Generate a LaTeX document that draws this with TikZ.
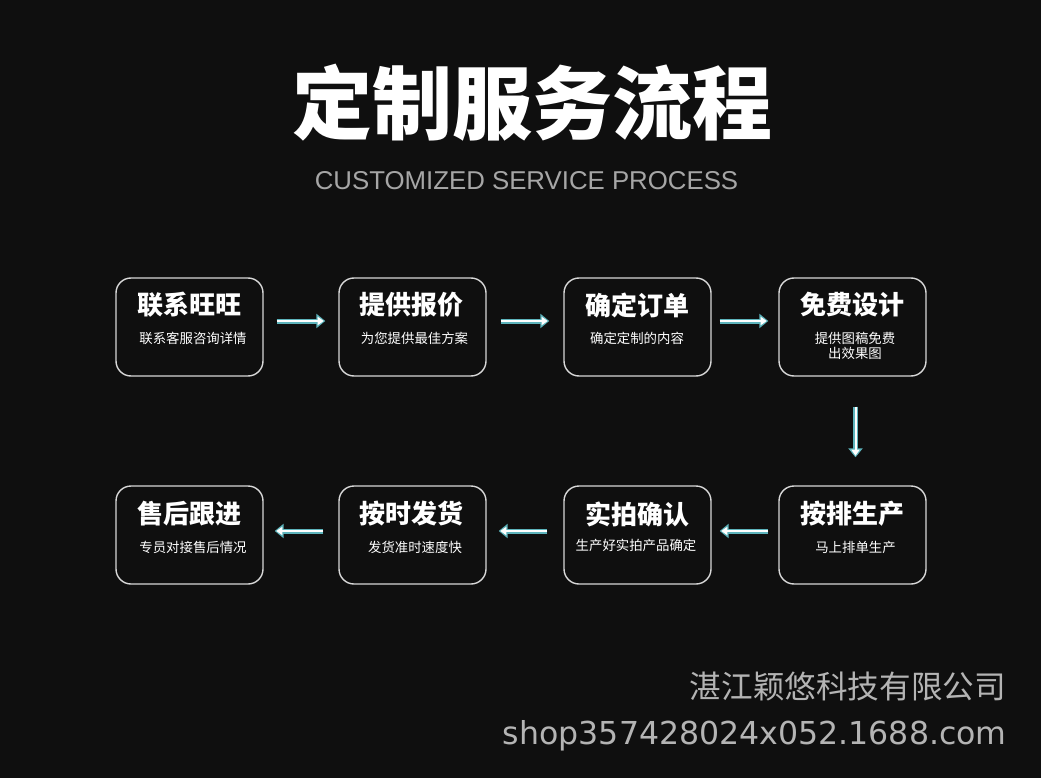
\documentclass[tikz,border=0pt]{standalone}
\usepackage{fontspec}
\setmainfont{Liberation Sans}
\newfontfamily\cjk{Noto Sans CJK SC}
\newfontfamily\dejavu{DejaVu Sans}
\usetikzlibrary{arrows.meta}
\definecolor{bg}{HTML}{0F0F0F}
\definecolor{boxline}{HTML}{D8D8D8}
\definecolor{arrowc}{HTML}{5DB4BC}
\definecolor{subgrey}{HTML}{A6A6A6}
\definecolor{footgrey}{HTML}{B4B4B4}
\tikzset{
  box/.style={draw=boxline, line width=1.4pt, rounded corners=15pt, minimum width=147pt, minimum height=98pt, inner sep=0pt},
  ttl/.style={text=white, inner sep=0pt, font=\cjk\bfseries\fontsize{26}{30}\selectfont},
  sub/.style={text=white, inner sep=0pt, align=center, font=\cjk\fontsize{13.4}{15}\selectfont},
  arr/.style={draw=arrowc, line width=5pt, -{Triangle[length=9pt,width=14pt]},
    postaction={draw=white, line width=2pt, -{Triangle[length=6pt,width=8pt]}, shorten >=1.6pt}}
}
\begin{document}
\begin{tikzpicture}[x=1pt,y=-1pt]
\fill[bg] (0,0) rectangle (1041,778);
\useasboundingbox (0,0) rectangle (1041,778);
% title
\node[text=white, inner sep=0pt, font=\cjk\bfseries\fontsize{80}{90}\selectfont] (title) at (532,103) {定制服务流程};
\node[text=subgrey, inner sep=0pt, font=\fontsize{25.8}{30}\selectfont] (subtitle) at (526.5,181) {CUSTOMIZED SERVICE PROCESS};
% row 1
\node[box] (b1) at (189.5,327) {};
\node[box] (b2) at (412.5,327) {};
\node[box] (b3) at (637.5,327) {};
\node[box] (b4) at (852.5,327) {};
% row 2
\node[box] (b5) at (189.5,535) {};
\node[box] (b6) at (412.5,535) {};
\node[box] (b7) at (637.5,535) {};
\node[box] (b8) at (852.5,535) {};
% titles
\node[ttl] (t1) at (189,305) {联系旺旺};
\node[ttl] (t2) at (411,305) {提供报价};
\node[ttl] (t3) at (637,305) {确定订单};
\node[ttl] (t4) at (852,305) {免费设计};
\node[ttl] (t5) at (189,514) {售后跟进};
\node[ttl] (t6) at (411,514) {按时发货};
\node[ttl] (t7) at (637,514) {实拍确认};
\node[ttl] (t8) at (852,514) {按排生产};
% subtitles
\node[sub] (s1) at (193,338) {联系客服咨询详情};
\node[sub] (s2) at (414.5,338) {为您提供最佳方案};
\node[sub] (s3) at (637,338) {确定定制的内容};
\node[sub] (s4) at (855,345.5) {提供图稿免费\\出效果图};
\node[sub] (s5) at (193,547) {专员对接售后情况};
\node[sub] (s6) at (415,547) {发货准时速度快};
\node[sub] (s7) at (636,545) {生产好实拍产品确定};
\node[sub] (s8) at (855.5,547) {马上排单生产};
% arrows
\draw[arr] ([xshift=13pt,yshift=6pt]b1.east) -- ([xshift=-13pt,yshift=6pt]b2.west);
\draw[arr] ([xshift=14pt,yshift=6pt]b2.east) -- ([xshift=-14pt,yshift=6pt]b3.west);
\draw[arr] ([xshift=8pt,yshift=6pt]b3.east) -- ([xshift=-10pt,yshift=6pt]b4.west);
\draw[arr] ([xshift=3pt,yshift=-30pt]b4.south) -- ([xshift=3pt,yshift=28pt]b8.north);
\draw[arr] ([xshift=-10pt,yshift=4pt]b8.west) -- ([xshift=8pt,yshift=4pt]b7.east);
\draw[arr] ([xshift=-16pt,yshift=4pt]b7.west) -- ([xshift=12pt,yshift=4pt]b6.east);
\draw[arr] ([xshift=-15pt,yshift=4pt]b6.west) -- ([xshift=11pt,yshift=4pt]b5.east);
% footer
\node[text=footgrey, inner sep=0pt, anchor=east, font=\cjk\fontsize{31.6}{36}\selectfont] (company) at (1006,686) {湛江颖悠科技有限公司};
\node[text=footgrey, inner sep=0pt, anchor=east, font=\dejavu\fontsize{31.6}{36}\selectfont] (shop) at (1007,736) {shop357428024x052.1688.com};
\end{tikzpicture}
\end{document}
